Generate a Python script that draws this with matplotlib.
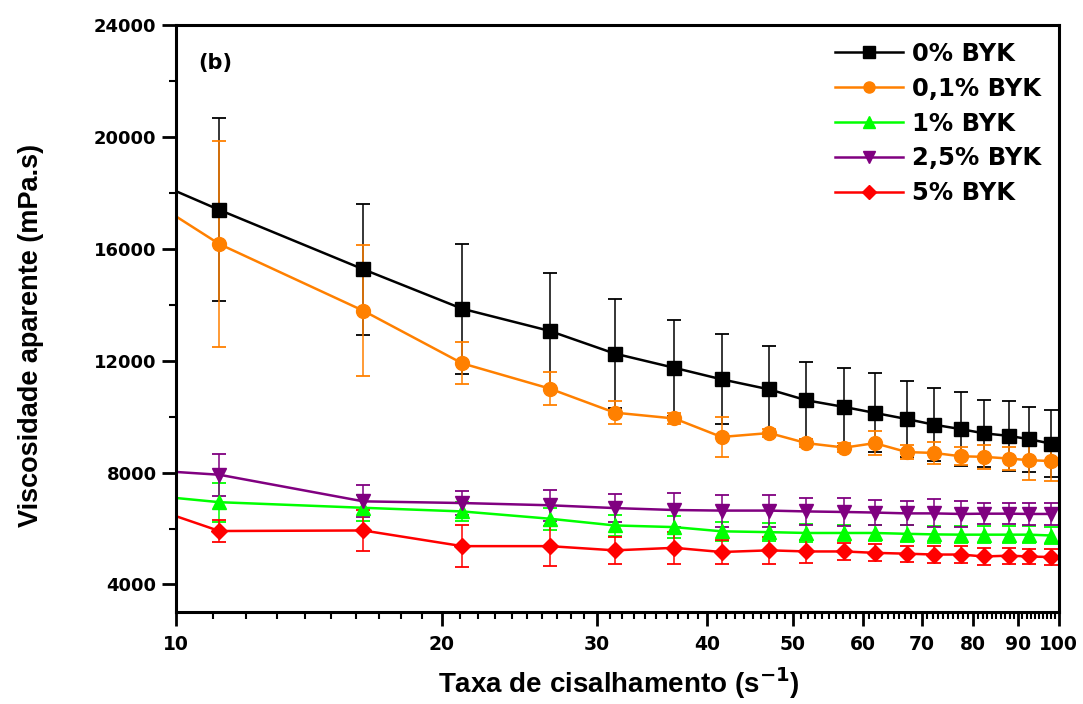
import matplotlib

matplotlib.use("Agg")
from matplotlib import pyplot as plt
from matplotlib.lines import Line2D
from matplotlib.ticker import FixedLocator, NullFormatter, MultipleLocator

# shear rate (1/s) and apparent viscosity (mPa.s)
shear = [10, 11.2, 16.3, 21.1, 26.5, 31.4, 36.7, 41.5, 47.0, 51.8,
         57.2, 61.9, 67.3, 72.2, 77.5, 82.3, 87.8, 92.6, 98.1]

byk_0 = [18050, 17380, 15260, 13850, 13060, 12250, 11740, 11330, 10970, 10580,
         10340, 10130, 9910, 9710, 9550, 9400, 9310, 9190, 9030]
byk_0_err = [0, 3270, 2340, 2330, 2060, 1940, 1720, 1610, 1560, 1370,
             1410, 1410, 1360, 1310, 1320, 1190, 1240, 1160, 1190]

byk_01 = [17150, 16160, 13780, 11900, 11000, 10140, 9930, 9270, 9410, 9050,
          8890, 9050, 8730, 8700, 8580, 8560, 8500, 8440, 8410]
byk_01_err = [0, 3680, 2340, 750, 600, 420, 200, 700, 150, 150,
              150, 430, 250, 400, 320, 430, 420, 690, 715]

byk_1 = [7090, 6940, 6740, 6610, 6350, 6110, 6050, 5900, 5870, 5840,
         5840, 5840, 5810, 5790, 5780, 5780, 5780, 5780, 5750]
byk_1_err = [0, 700, 470, 330, 400, 380, 380, 350, 330, 330,
             300, 300, 300, 300, 300, 300, 300, 300, 300]

byk_25 = [8020, 7920, 6970, 6910, 6830, 6730, 6660, 6640, 6640, 6610,
          6590, 6570, 6540, 6540, 6520, 6530, 6530, 6520, 6520]
byk_25_err = [0, 750, 570, 420, 560, 510, 610, 570, 570, 490,
              510, 440, 430, 500, 470, 380, 380, 390, 390]

byk_5 = [6440, 5910, 5930, 5370, 5370, 5220, 5310, 5160, 5220, 5180,
         5180, 5130, 5100, 5070, 5070, 5000, 5030, 5000, 4980]
byk_5_err = [0, 400, 740, 740, 720, 480, 570, 420, 480, 400,
             300, 300, 290, 320, 320, 320, 290, 270, 300]

labels = ["0% BYK", "0,1% BYK", "1% BYK", "2,5% BYK", "5% BYK"]
x_major = [10, 20, 30, 40, 50, 60, 70, 80, 90, 100]
x_minor = [v for v in range(11, 100) if v % 10 != 0]
y_major = [4000, 8000, 12000, 16000, 20000, 24000]

series = [
    (byk_0, byk_0_err, "#000000", "s", 10),
    (byk_01, byk_01_err, "#FF8000", "o", 10),
    (byk_1, byk_1_err, "#00FF00", "^", 10),
    (byk_25, byk_25_err, "#800080", "v", 10),
    (byk_5, byk_5_err, "#FF0000", "D", 8.5),
]

plt.rcParams["font.family"] = "DejaVu Sans"
plt.rcParams["font.weight"] = "bold"

fig = plt.figure(figsize=(10.83, 7.04), dpi=100)
ax = fig.add_axes([0.1625, 0.13, 0.815, 0.835])

handles = []
for (vals, errs, color, marker, ms), label in zip(series, labels):
    ax.errorbar(shear, vals, yerr=errs, color=color, marker=marker,
                markersize=ms, linewidth=1.8, elinewidth=1.1, capsize=5,
                capthick=1.3, markevery=(1, 1), errorevery=(1, 1))
    handles.append(Line2D([], [], color=color, marker=marker,
                          markersize=ms * 0.8, linewidth=1.8, label=label))

ax.set_xscale("log")
ax.set_xlim(10, 100)
ax.set_ylim(3000, 24000)

ax.xaxis.set_major_locator(FixedLocator(x_major))
ax.xaxis.set_minor_locator(FixedLocator(x_minor))
ax.xaxis.set_minor_formatter(NullFormatter())
ax.set_xticklabels([str(v) for v in x_major])
ax.yaxis.set_major_locator(FixedLocator(y_major))
ax.yaxis.set_minor_locator(MultipleLocator(2000))

ax.tick_params(axis="both", which="major", direction="out", length=10,
               width=2)
ax.tick_params(axis="both", which="minor", direction="out", length=5,
               width=1.5)
ax.tick_params(axis="x", which="major", labelsize=13.5, pad=6)
ax.tick_params(axis="y", which="major", labelsize=13, pad=4)
for spine in ax.spines.values():
    spine.set_linewidth(2.2)

ax.set_xlabel("Taxa de cisalhamento (s$^{\\mathbf{-1}}$)", fontsize=20,
              fontfamily="Liberation Sans", fontweight="bold")
ax.set_ylabel("Viscosidade aparente (mPa.s)", fontsize=19.5,
              fontfamily="Liberation Sans", fontweight="bold")
ax.xaxis.set_label_coords(0.502, -0.12)
ax.yaxis.set_label_coords(-0.164, 0.472)
ax.xaxis.label.set_va("center")
ax.yaxis.label.set_va("center")

ax.text(0.044, 0.935, "(b)", transform=ax.transAxes, fontsize=15,
        fontweight="bold", ha="center", va="center")

ax.legend(handles=handles, loc="upper right", frameon=False, fontsize=17.5,
          handlelength=2.8, handletextpad=0.4, labelspacing=0.45,
          borderaxespad=0.3)

plt.savefig("out.png", dpi=100)
